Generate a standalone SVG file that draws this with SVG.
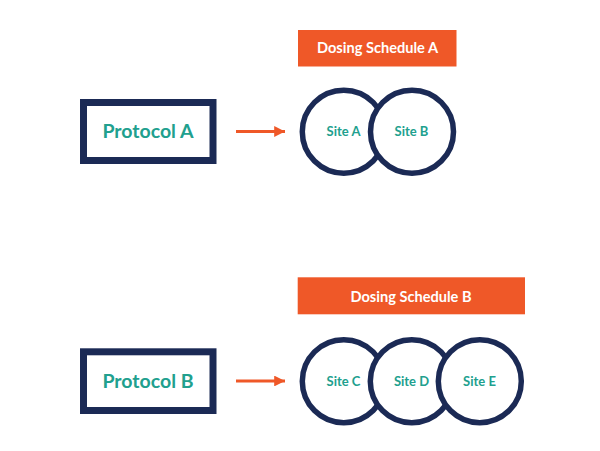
<svg xmlns="http://www.w3.org/2000/svg" width="600" height="451" viewBox="0 0 600 451">
<style>
.box{fill:#fff;stroke:#1b2a55;stroke-width:7}
.site{fill:#fff;stroke:#1b2a55;stroke-width:5.5}
.sched{fill:#ef5828}
.ptxt{font-family:Lato,"Noto Sans",sans-serif;font-weight:700;font-size:19.5px;fill:#21a08e;text-anchor:middle}
.stxt{font-family:Lato,"Noto Sans",sans-serif;font-weight:700;font-size:13px;fill:#21a08e;text-anchor:middle}
.htxt{font-family:Lato,"Noto Sans",sans-serif;font-weight:700;font-size:14.6px;fill:#fff;text-anchor:middle}
.conn{stroke:#ef5828;stroke-width:3;fill:none}
</style>
<defs>
<marker id="ah" viewBox="0 0 10 10" refX="10" refY="5" markerWidth="3.6" markerHeight="3.6" orient="auto" markerUnits="strokeWidth">
<path d="M0,0 L10,5 L0,10 z" fill="#ef5828"/>
</marker>
</defs>
<rect width="600" height="451" fill="#fff"/>
<g id="connectors">
<line class="conn" x1="236" y1="131.5" x2="285" y2="131.5" marker-end="url(#ah)"/>
<line class="conn" x1="236" y1="381" x2="285" y2="381" marker-end="url(#ah)"/>
</g>
<g id="protocolA">
<rect class="box" x="83.5" y="102.5" width="129.5" height="58"/>
<text class="ptxt" x="148" y="138">Protocol A</text>
</g>
<g id="scheduleA">
<rect class="sched" x="298" y="30" width="158.5" height="36.5"/>
<text class="htxt" x="377.5" y="53.2">Dosing Schedule A</text>
</g>
<g id="siteA">
<circle class="site" cx="343.8" cy="131.7" r="41.5"/>
<text class="stxt" x="343.5" y="136.2">Site A</text>
</g>
<g id="siteB">
<circle class="site" cx="412" cy="131.7" r="41.5"/>
<text class="stxt" x="411.5" y="136.2">Site B</text>
</g>
<g id="protocolB">
<rect class="box" x="83.5" y="351.8" width="129.5" height="58.7"/>
<text class="ptxt" x="148" y="388">Protocol B</text>
</g>
<g id="scheduleB">
<rect class="sched" x="297.7" y="277.3" width="227.3" height="37"/>
<text class="htxt" x="411" y="301.9">Dosing Schedule B</text>
</g>
<g id="siteC">
<circle class="site" cx="343.8" cy="381.2" r="41.5"/>
<text class="stxt" x="343.5" y="385.7">Site C</text>
</g>
<g id="siteD">
<circle class="site" cx="411.8" cy="381.2" r="41.5"/>
<text class="stxt" x="411.5" y="385.7">Site D</text>
</g>
<g id="siteE">
<circle class="site" cx="479.8" cy="381.2" r="41.5"/>
<text class="stxt" x="479.5" y="385.7">Site E</text>
</g>
</svg>
